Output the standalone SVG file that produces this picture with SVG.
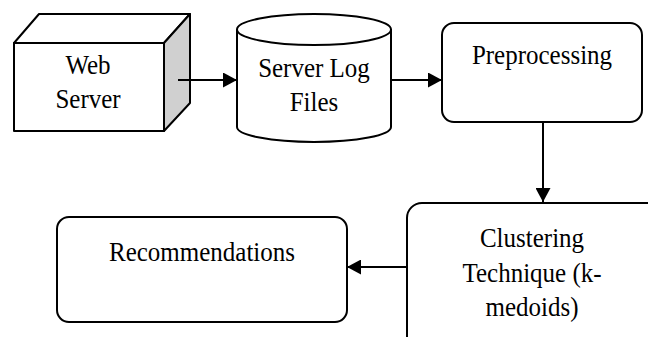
<svg xmlns="http://www.w3.org/2000/svg" width="648" height="337" viewBox="0 0 648 337">
<style>
.s{fill:#fff;stroke:#000;stroke-width:2;stroke-linejoin:round}
.t{font-family:"Liberation Serif","Times New Roman",serif;font-size:25px;fill:#000;text-anchor:middle}
.c{fill:none;stroke:#000;stroke-width:2}
</style>
<defs>
<marker id="ah" markerUnits="userSpaceOnUse" markerWidth="15" markerHeight="15" refX="14" refY="7.5" orient="auto">
<path d="M0,0 L14,7.5 L0,15 z" fill="#000"/>
</marker>
</defs>
<rect width="648" height="337" fill="#fff"/>
<g id="web-server">
<polygon class="s" points="14,43 39,14 190,14 164,43"/>
<polygon class="s" points="164,43 190,14 190,103 164,131" style="fill:#d0d0d0"/>
<rect class="s" x="14" y="43" width="150" height="88"/>
<text class="t" transform="translate(88,74) scale(1,1.12)">Web</text>
<text class="t" transform="translate(88,108) scale(1,1.12)">Server</text>
</g>
<g id="server-log-files">
<path class="s" d="M237,29 V127 A77,15 0 0 0 391,127 V29"/>
<ellipse class="s" cx="314" cy="29.5" rx="77" ry="15.5"/>
<text class="t" transform="translate(314,77) scale(1,1.12)">Server Log</text>
<text class="t" transform="translate(314,111) scale(1,1.12)">Files</text>
</g>
<g id="preprocessing">
<rect class="s" x="442" y="23" width="200" height="99" rx="12"/>
<text class="t" transform="translate(542,64) scale(1,1.12)">Preprocessing</text>
</g>
<g id="clustering">
<rect class="s" x="407" y="203" width="260" height="160" rx="15"/>
<text class="t" transform="translate(532,247) scale(1,1.12)">Clustering</text>
<text class="t" transform="translate(532,282) scale(1,1.12)">Technique (k-</text>
<text class="t" transform="translate(532,316) scale(1,1.12)">medoids)</text>
</g>
<g id="recommendations">
<rect class="s" x="57" y="217" width="290" height="105" rx="12"/>
<text class="t" transform="translate(202,261) scale(1,1.12)">Recommendations</text>
</g>
<g id="connectors">
<path class="c" d="M178,80 H237" marker-end="url(#ah)"/>
<path class="c" d="M391,80 H442" marker-end="url(#ah)"/>
<path class="c" d="M543,122 V202" marker-end="url(#ah)"/>
<path class="c" d="M407,267 H347" marker-end="url(#ah)"/>
</g>
</svg>
